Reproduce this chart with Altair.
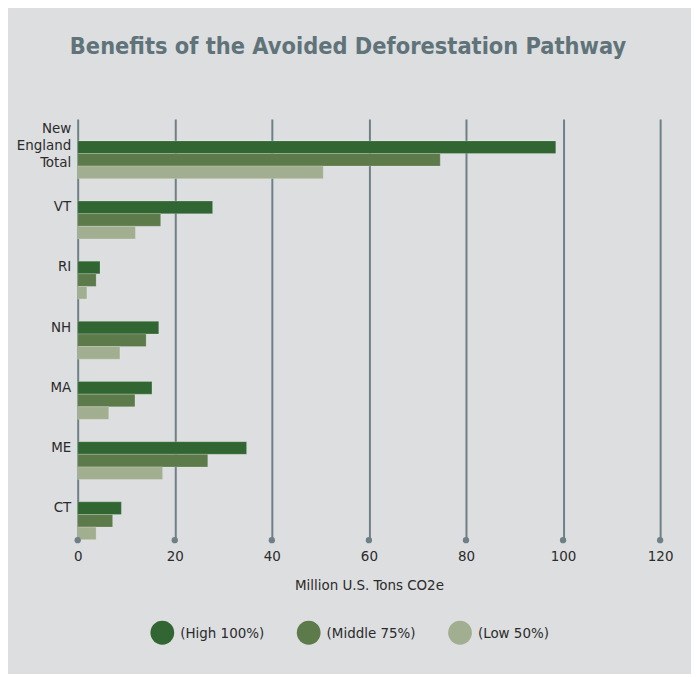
import altair as alt
import pandas as pd

states = ["New England Total", "VT", "RI", "NH", "MA", "ME", "CT"]
high = [98.5, 27.8, 4.6, 16.7, 15.3, 34.8, 9.0]
middle = [74.7, 17.1, 3.8, 14.1, 11.8, 26.8, 7.2]
low = [50.6, 11.9, 1.9, 8.7, 6.4, 17.5, 3.8]
series = ["(High 100%)", "(Middle 75%)", "(Low 50%)"]
colors = ["#316633", "#5c7a4a", "#a2ae90"]
ticks = [0, 20, 40, 60, 80, 100, 120]

rows = []
for i, s in enumerate(states):
    for name, vals in zip(series, [high, middle, low]):
        rows.append({"state": s, "scenario": name, "value": vals[i]})
df = pd.DataFrame(rows)

FONT = "Liberation Sans Narrow, DejaVu Sans Condensed, Arial Narrow, sans-serif"
GRID = "#6e8086"

x_scale = alt.Scale(domain=[0, 120], nice=False)

bars = alt.Chart(df).mark_bar(stroke="#ffffff", strokeOpacity=0.25, strokeWidth=0.8).encode(
    x=alt.X("value:Q", scale=x_scale,
            axis=alt.Axis(values=ticks, title="Million U.S. Tons CO2e", grid=True,
                          gridColor=GRID, gridWidth=2, gridOpacity=1, labelFlush=False,
                          domain=False, ticks=False, labelFont=FONT, labelFontSize=15,
                          labelColor="#2b2b2b", labelPadding=8, titleFont=FONT,
                          titleFontSize=15, titleFontWeight="normal", titleColor="#2b2b2b",
                          titlePadding=15)),
    y=alt.Y("state:N", sort=states, scale=alt.Scale(paddingInner=0, paddingOuter=0),
            axis=alt.Axis(title=None, domain=False, ticks=False, grid=False,
                          labelFont=FONT, labelFontSize=15, labelColor="#2b2b2b",
                          labelPadding=7,
                          labelOffset={"condition": {"test": "datum.value == 'New England Total'", "value": -21}, "value": -3},
                          labelLineHeight=17,
                          labelExpr="datum.value == 'New England Total' ? ['New', 'England', 'Total'] : datum.value")),
    yOffset=alt.YOffset("scenario:N", sort=series,
                        scale=alt.Scale(domain=series, range=[22, 60], paddingInner=0, paddingOuter=0)),
    color=alt.Color("scenario:N", sort=series,
                    scale=alt.Scale(domain=series, range=colors),
                    legend=alt.Legend(title=None, orient="none", direction="horizontal",
                                      legendX=73, legendY=504, symbolType="circle",
                                      symbolSize=570, symbolStrokeWidth=0, symbolOpacity=1,
                                      labelFont=FONT, labelFontSize=15, labelColor="#2b2b2b",
                                      labelOffset=6, columnPadding=32)),
)

dots = alt.Chart(pd.DataFrame({"t": ticks})).mark_circle(color=GRID, opacity=1, size=40).encode(
    x=alt.X("t:Q", scale=x_scale),
    y=alt.value(423),
)

chart = alt.layer(bars, dots).properties(
    width=585,
    height=423,
    autosize=alt.AutoSizeParams(type="none"),
    padding={"left": 70, "top": 110, "right": 31, "bottom": 133},
    background="#dddee0",
    title=alt.TitleParams(
        "Benefits of the Avoided Deforestation Pathway",
        font=FONT, fontSize=23.5, fontWeight="bold", color="#5f7379",
        anchor="middle", dx=-21, offset=61,
    ),
).configure_view(stroke=None)

chart.save("out.html", embed_options={"renderer": "svg", "actions": False})
